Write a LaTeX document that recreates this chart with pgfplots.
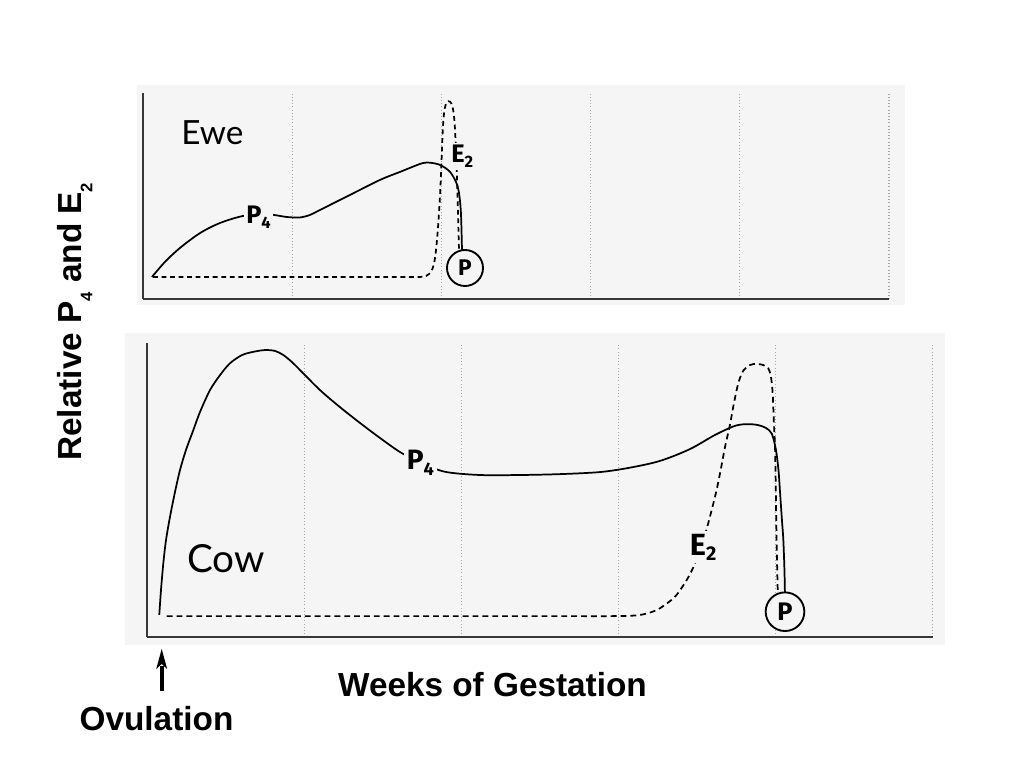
\documentclass[border=0pt]{standalone}
\usepackage{pgfplots}
\pgfplotsset{compat=1.18}
\usepackage{fontspec}
\usepackage{graphicx}
\setmainfont{Liberation Sans}
\newfontfamily\gill{Lato}
\newfontfamily\gillb{Fira Sans}
\definecolor{bg}{RGB}{245,245,245}
\definecolor{axgray}{RGB}{55,55,55}
\newcommand\sub[2][0.65]{\raisebox{-0.35ex}{\scalebox{#1}{#2}}}

\pgfplotsset{panel/.style={
    scale only axis, anchor=south west,
    xmin=0, xmax=5, ymin=0, ymax=1,
    axis x line=bottom, axis y line=left,
    axis line style={-, line width=1.5pt, draw=axgray},
    xtick={1,2,3,4,5}, ytick=\empty, xticklabels={},
    major tick length=0pt,
    xmajorgrids, grid style={dotted, line width=0.8pt, black!35},
    clip=false}}

\begin{document}
\begin{tikzpicture}
\useasboundingbox (0,0) rectangle (768pt,576pt);
\begin{scope}[x=0.75pt,y=-0.75pt,yshift=576pt]
  \fill[bg] (137,85) rectangle (905,305);
  \fill[bg] (125,333) rectangle (945,645);
\end{scope}

% Ewe
\begin{axis}[panel, at={(107.25pt,351.75pt)}, width=559.5pt, height=154.5pt]
\addplot[smooth, line width=1.3pt] coordinates {
  (0.060,0.107) (0.147,0.180) (0.248,0.248) (0.382,0.320) (0.516,0.369)
  (0.670,0.403) (0.818,0.413) (0.965,0.398) (1.052,0.396) (1.119,0.408)
  (1.186,0.432) (1.387,0.505) (1.588,0.578) (1.723,0.617) (1.877,0.660)
  (1.957,0.658) (2.004,0.646) (2.058,0.617) (2.098,0.568) (2.118,0.515)
  (2.131,0.417) (2.138,0.238)};
\addplot[smooth, line width=1.3pt, dash pattern=on 3.6pt off 2.8pt] coordinates {
  (0.067,0.107) (0.5,0.107) (1.0,0.107) (1.4,0.107) (1.65,0.107)
  (1.78,0.107) (1.857,0.107) (1.897,0.112) (1.930,0.131) (1.950,0.170)
  (1.964,0.238) (1.977,0.345) (1.991,0.505) (2.001,0.675) (2.010,0.830)
  (2.020,0.915) (2.036,0.955) (2.058,0.958) (2.075,0.932) (2.088,0.860)
  (2.099,0.700) (2.107,0.520) (2.113,0.365) (2.118,0.238)};
\end{axis}

% Cow
\begin{axis}[panel, at={(110.5pt,98.25pt)}, width=589.05pt, height=220.5pt]
\addplot[smooth, line width=1.3pt] coordinates {
  (0.076,0.075) (0.087,0.160) (0.102,0.252) (0.119,0.330) (0.144,0.408)
  (0.176,0.493) (0.208,0.568) (0.246,0.636) (0.293,0.704) (0.335,0.765)
  (0.399,0.840) (0.463,0.891) (0.526,0.931) (0.603,0.959) (0.675,0.970)
  (0.749,0.976) (0.813,0.973) (0.866,0.959) (0.921,0.935) (0.972,0.908)
  (1.099,0.840) (1.226,0.782) (1.354,0.728) (1.481,0.677) (1.609,0.629)
  (1.736,0.594) (1.895,0.562) (2.118,0.551) (2.372,0.551) (2.627,0.554)
  (2.882,0.561) (3.073,0.576) (3.264,0.599) (3.454,0.639) (3.613,0.687)
  (3.740,0.718) (3.817,0.724) (3.887,0.721) (3.938,0.711) (3.976,0.691)
  (4.002,0.636) (4.018,0.568) (4.027,0.500) (4.040,0.398) (4.049,0.330)
  (4.056,0.228) (4.059,0.150)};
\addplot[smooth, line width=1.3pt, dash pattern=on 4.4pt off 3pt] coordinates {
  (0.123,0.071) (0.8,0.071) (1.5,0.071) (2.2,0.071) (2.7,0.071)
  (2.95,0.071) (3.066,0.072) (3.136,0.075) (3.200,0.083) (3.264,0.098)
  (3.359,0.137) (3.434,0.194) (3.487,0.251) (3.550,0.347) (3.614,0.477)
  (3.646,0.557) (3.678,0.647) (3.709,0.721) (3.730,0.783) (3.762,0.863)
  (3.794,0.906) (3.836,0.925) (3.879,0.929) (3.921,0.925) (3.953,0.914)
  (3.970,0.885) (3.981,0.829) (3.989,0.727) (3.996,0.647) (4.000,0.534)
  (4.004,0.387) (4.008,0.273) (4.013,0.160)};
\end{axis}

\begin{scope}[x=0.75pt,y=-0.75pt,yshift=576pt]
  % panel labels
  \node[anchor=base west, inner sep=0pt, font=\gill\fontsize{25}{25}\selectfont] at (181,145) {Ewe};
  \node[anchor=base west, inner sep=0pt, font=\gill\fontsize{29}{29}\selectfont] at (187,572) {Cow};
  \node[anchor=base west, fill=bg, inner sep=1.5pt, font=\gillb\bfseries\fontsize{19}{19}\selectfont] at (244,224) {P\sub{4}};
  \node[anchor=base west, fill=bg, inner sep=1.5pt, font=\gillb\bfseries\fontsize{19}{19}\selectfont] at (449,163) {E\sub{2}};
  \node[anchor=base west, fill=bg, inner sep=2pt, font=\gillb\bfseries\fontsize{21}{21}\selectfont] at (404,470) {P\sub{4}};
  \node[anchor=base west, fill=bg, inner sep=2pt, font=\gillb\bfseries\fontsize{23}{23}\selectfont] at (687,555) {E\sub{2}};
  \node[draw=black, circle, line width=1.4pt, fill=bg, minimum size=27pt, inner sep=0pt,
        font=\gillb\bfseries\fontsize{17}{17}\selectfont] at (465,268) {P};
  \node[draw=black, circle, line width=1.4pt, fill=bg, minimum size=29pt, inner sep=0pt,
        font=\gillb\bfseries\fontsize{19}{19}\selectfont] at (785,611.7) {P};
  % outer labels
  \node[anchor=base, inner sep=0pt, font=\bfseries\fontsize{25}{25}\selectfont] at (492.5,696.7) {Weeks of Gestation};
  \node[anchor=base, inner sep=0pt, font=\bfseries\fontsize{25}{25}\selectfont] at (156.5,730) {Ovulation};
  \node[anchor=base, rotate=90, inner sep=0pt, font=\bfseries\fontsize{25}{25}\selectfont] at (81.7,321.7)
    {Relative P\raisebox{-0.6ex}{\scalebox{0.5}{4}} and E\raisebox{-0.6ex}{\scalebox{0.5}{2}}};
  % ovulation arrow
  \draw[line width=3pt] (161.7,691) -- (161.7,666);
  \fill (161.7,649) -- (156.2,669) -- (161.7,664) -- (167.2,669) -- cycle;
\end{scope}
\end{tikzpicture}
\end{document}
